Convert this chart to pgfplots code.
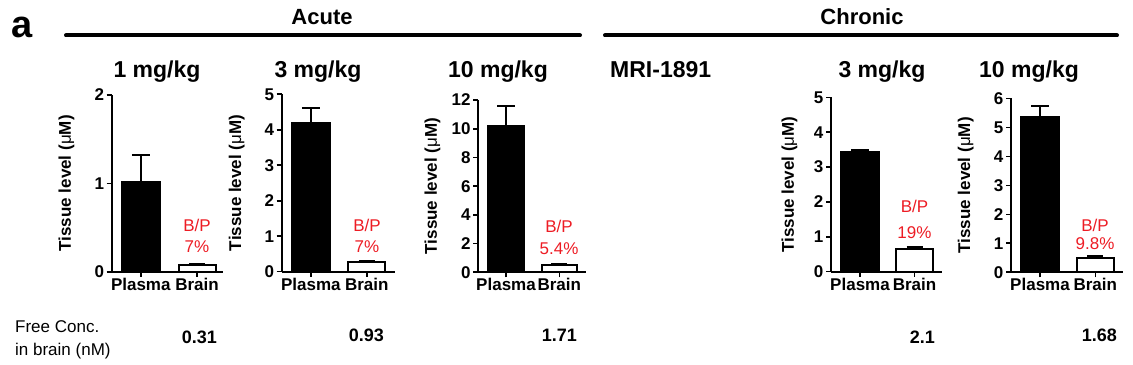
\documentclass[border=0pt]{standalone}
\usepackage{pgfplots}
\pgfplotsset{compat=1.18}
\usepackage{fontspec}
\setmainfont{Liberation Sans}
\definecolor{bpred}{RGB}{237,28,36}
\newcommand{\fs}[1]{\fontsize{#1bp}{#1bp}\selectfont}
\pgfplotsset{
  prism/.style={
    scale only axis, axis lines=left, axis line style={line width=2bp,-},
    xmin=0, ymin=0, enlargelimits=false, clip=false,
    tick align=outside, major tick length=5bp,
    tick style={line width=1.6bp, black},
    xticklabels={Plasma,Brain},
    /pgf/number format/assume math mode=true,
    tick label style={font=\bfseries\fs{17}},
    xticklabel style={inner sep=1bp},
    yticklabel style={inner sep=2.5bp},
    ylabel={Tissue level ({\mdseries μ}M)},
    ylabel style={font=\bfseries\fs{17}, rotate=0, anchor=south},
  },
  pbar/.style={ybar, bar shift=0pt, fill=black, draw=black, line width=2bp,
    error bars/.cd, y dir=plus, y explicit,
    error bar style={line width=2bp, black},
    error mark options={rotate=90, mark size=9bp, line width=2bp, black},
    /pgfplots/.cd},
  bbar/.style={ybar, bar shift=0pt, fill=white, draw=black, line width=2bp,
    error bars/.cd, y dir=plus, y explicit,
    error bar style={line width=2bp, black},
    error mark options={rotate=90, mark size=8bp, line width=2bp, black},
    /pgfplots/.cd},
}
\begin{document}
\begin{tikzpicture}
\useasboundingbox (0,0) rectangle (1133bp,365bp);

% ---------------- Panel 1: Acute 1 mg/kg
\begin{axis}[prism, at={(111.7bp,93.3bp)}, anchor=south west,
  width=111.3bp, height=176.7bp, xmax=111.3, ymax=2, ytick={0,1,2},
  xtick={29.1,85.3},
  ylabel style={at={(axis description cs:-0.303,0.5)}}]
\addplot[bar width=38, pbar] coordinates {(29.1,1.02) +- (0,0.30)};
\addplot[bar width=37, bbar] coordinates {(85.3,0.08) +- (0,0.01)};
\end{axis}

% ---------------- Panel 2: Acute 3 mg/kg
\begin{axis}[prism, at={(281.7bp,93.3bp)}, anchor=south west,
  width=113.3bp, height=177.4bp, xmax=113.3, ymax=5, ytick={0,1,2,3,4,5},
  xtick={29.1,85.1},
  ylabel style={at={(axis description cs:-0.295,0.5)}}]
\addplot[bar width=38, pbar] coordinates {(29.1,4.18) +- (0,0.42)};
\addplot[bar width=37, bbar] coordinates {(85.1,0.27) +- (0,0.02)};
\end{axis}

% ---------------- Panel 3: Acute 10 mg/kg
\begin{axis}[prism, at={(478.3bp,92.7bp)}, anchor=south west,
  width=107.4bp, height=172.3bp, xmax=107.4, ymax=12, ytick={0,2,4,6,8,10,12},
  xtick={27.7,81},
  ylabel style={at={(axis description cs:-0.319,0.5)}}]
\addplot[bar width=36, pbar] coordinates {(27.7,10.21) +- (0,1.4)};
\addplot[bar width=35, bbar] coordinates {(81,0.5) +- (0,0.1)};
\end{axis}

% ---------------- Panel 5: Chronic 3 mg/kg
\begin{axis}[prism, at={(831bp,93.3bp)}, anchor=south west,
  width=110.7bp, height=174.4bp, xmax=110.7, ymax=5, ytick={0,1,2,3,4,5},
  xtick={29,83.5},
  ylabel style={at={(axis description cs:-0.271,0.5)}}]
\addplot[bar width=38, pbar] coordinates {(29,3.42) +- (0,0.07)};
\addplot[bar width=37.6, bbar] coordinates {(83.5,0.64) +- (0,0.06)};
\end{axis}

% ---------------- Panel 6: Chronic 10 mg/kg
\begin{axis}[prism, at={(1011bp,92.7bp)}, anchor=south west,
  width=111.7bp, height=174bp, xmax=111.7, ymax=6, ytick={0,1,2,3,4,5,6},
  xtick={29,84.3},
  ylabel style={at={(axis description cs:-0.302,0.5)}}]
\addplot[bar width=38, pbar] coordinates {(29,5.34) +- (0,0.40)};
\addplot[bar width=37.3, bbar] coordinates {(84.3,0.50) +- (0,0.06)};
\end{axis}

% ---------------- B/P annotations
\begin{scope}[every node/.style={text=bpred, font=\fs{17}, inner sep=0pt}]
\node at (197bp,140bp) {B/P}; \node at (197bp,118bp) {7\%};
\node at (367bp,140bp) {B/P}; \node at (367bp,118bp) {7\%};
\node at (559bp,138.3bp) {B/P}; \node at (559bp,116.7bp) {5.4\%};
\node at (914.5bp,159bp) {B/P}; \node at (914.5bp,132bp) {19\%};
\node at (1095bp,139.3bp) {B/P}; \node at (1095bp,121.7bp) {9.8\%};
\end{scope}

% ---------------- headers
\node[font=\bfseries\fs{38}, anchor=base, inner sep=0pt] at (22bp,327bp) {a};
\draw[line width=4bp, line cap=round] (66bp,329.5bp) -- (580bp,329.5bp);
\draw[line width=4bp, line cap=round] (605bp,329.5bp) -- (1117bp,329.5bp);
\node[font=\bfseries\fs{22}, anchor=base, inner sep=0pt] at (322bp,340bp) {Acute};
\node[font=\bfseries\fs{22}, anchor=base, inner sep=0pt] at (862bp,340bp) {Chronic};

\begin{scope}[every node/.style={font=\bfseries\fs{23}, anchor=base, inner sep=0pt}]
\node at (157bp,287bp) {1 mg/kg};
\node at (318bp,287bp) {3 mg/kg};
\node at (498bp,287bp) {10 mg/kg};
\node[anchor=base west] at (610bp,287bp) {MRI-1891};
\node at (882bp,287bp) {3 mg/kg};
\node at (1029bp,287bp) {10 mg/kg};
\end{scope}

% ---------------- bottom row
\node[font=\fs{17}, anchor=base west, inner sep=0pt] at (15bp,33bp) {Free Conc.};
\node[font=\fs{17}, anchor=base west, inner sep=0pt] at (15bp,10bp) {in brain (nM)};
\begin{scope}[every node/.style={font=\bfseries\fs{18}, anchor=base east, inner sep=0pt}]
\node at (217bp,22bp) {0.31};
\node at (384bp,24bp) {0.93};
\node at (577bp,24bp) {1.71};
\node at (935bp,22bp) {2.1};
\node at (1117bp,24bp) {1.68};
\end{scope}
\end{tikzpicture}
\end{document}
